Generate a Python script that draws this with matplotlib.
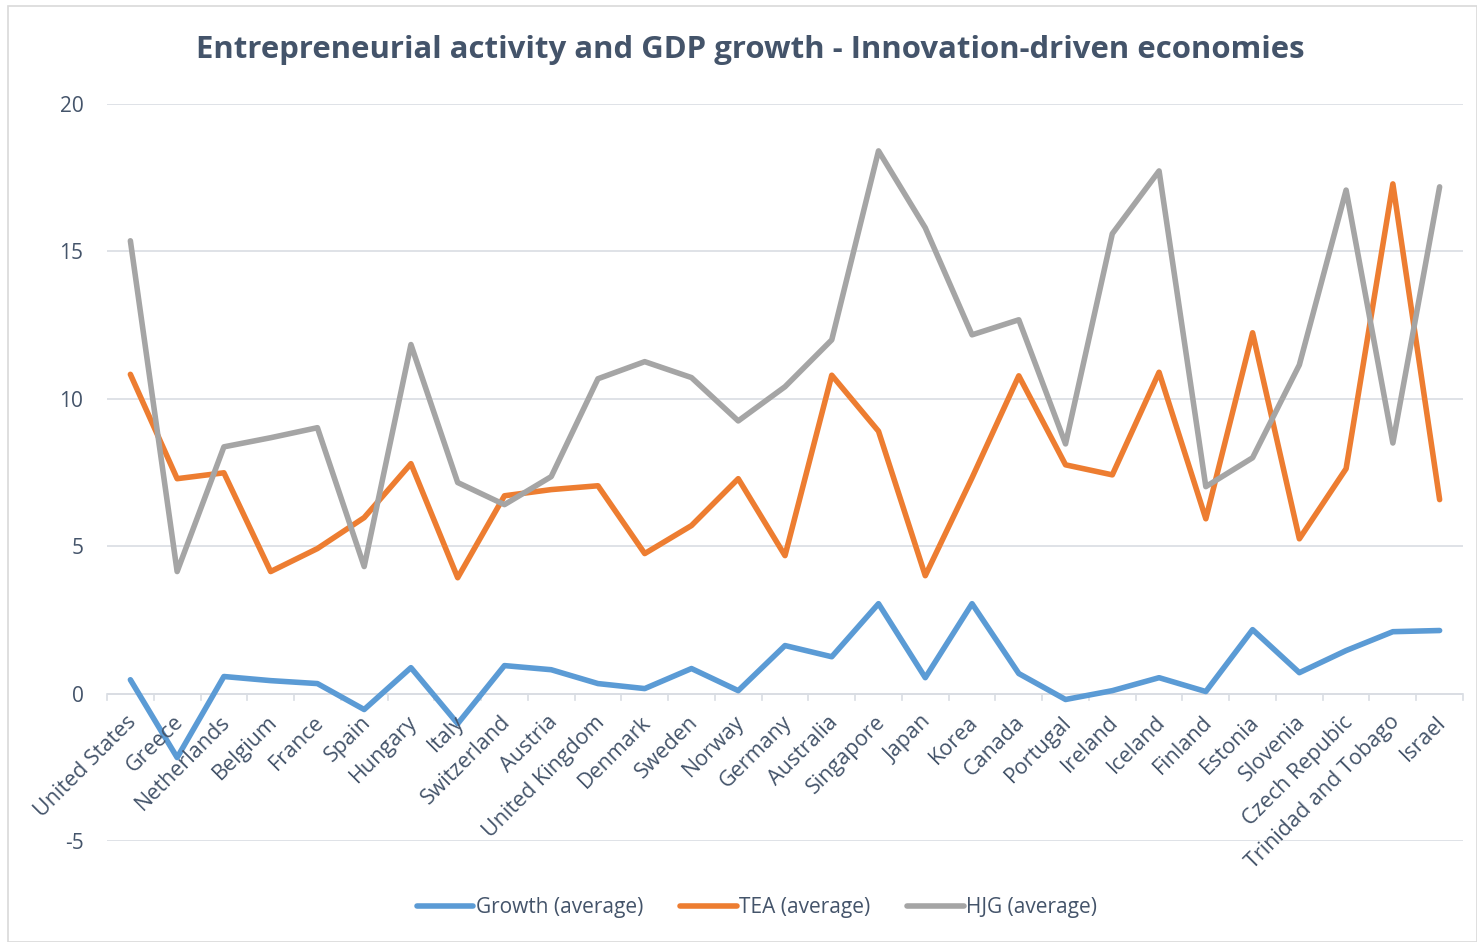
import matplotlib.pyplot as plt
from matplotlib.patches import Rectangle
import numpy as np

plt.rcParams["font.family"] = ["Open Sans", "DejaVu Sans"]
plt.rcParams["axes.unicode_minus"] = False

countries = [
    "United States", "Greece", "Netherlands", "Belgium", "France", "Spain",
    "Hungary", "Italy", "Switzerland", "Austria", "United Kingdom", "Denmark",
    "Sweden", "Norway", "Germany", "Australia", "Singapore", "Japan", "Korea",
    "Canada", "Portugal", "Ireland", "Iceland", "Finland", "Estonia",
    "Slovenia", "Czech Repubic", "Trinidad and Tobago", "Israel",
]

growth = [
    0.47, -2.17, 0.58, 0.44, 0.34, -0.54, 0.88, -1.02, 0.95, 0.81, 0.34, 0.17,
    0.85, 0.10, 1.63, 1.25, 3.05, 0.54, 3.05, 0.68, -0.20, 0.10, 0.54, 0.07,
    2.17, 0.71, 1.46, 2.10, 2.14,
]
tea = [
    10.83, 7.29, 7.49, 4.14, 4.92, 5.97, 7.80, 3.93, 6.71, 6.92, 7.05, 4.75,
    5.70, 7.29, 4.68, 10.80, 8.90, 4.00, 7.32, 10.78, 7.76, 7.42, 10.90, 5.93,
    12.24, 5.25, 7.63, 17.29, 6.58,
]
hjg = [
    15.36, 4.14, 8.37, 8.68, 9.02, 4.31, 11.84, 7.16, 6.41, 7.36, 10.68, 11.26,
    10.72, 9.25, 10.41, 12.00, 18.41, 15.80, 12.17, 12.68, 8.47, 15.60, 17.73,
    7.02, 8.00, 11.15, 17.08, 8.50, 17.19,
]

series = [
    ("Growth (average)", growth, "#5B9BD5"),
    ("TEA (average)", tea, "#ED7D31"),
    ("HJG (average)", hjg, "#A5A5A5"),
]

text_color = "#44546A"
grid_color = "#D9DDE3"
lw = 4.0

W, H = 1477, 942
fig = plt.figure(figsize=(W / 100, H / 100), dpi=100)
fig.patch.set_facecolor("white")

# chart-area border
fig.add_artist(Rectangle((8 / W, 0), 1 - 8 / W, 1 - 6 / H, transform=fig.transFigure,
                         fill=False, edgecolor="#D9D9D9", linewidth=1.2))

ax = fig.add_axes([107 / W, 1 - 841 / H, (1463 - 107) / W, (841 - 104) / H])

x = np.arange(len(countries))
for name, vals, color in series:
    ax.plot(x, vals, color=color, linewidth=lw, label=name,
            solid_joinstyle="round", solid_capstyle="round")

ax.set_xlim(-0.5, len(countries) - 0.5)
ax.set_ylim(-5, 20)
ax.set_yticks([-5, 0, 5, 10, 15, 20])
ax.grid(axis="y", color=grid_color, linewidth=1.2)
ax.set_axisbelow(True)
for s in ["top", "right", "left", "bottom"]:
    ax.spines[s].set_visible(False)

ax.tick_params(axis="y", length=0, pad=17, labelsize=15, labelcolor=text_color)
ax.set_xticks([])

# category axis at zero with tick marks between categories
ax.axhline(0, color=grid_color, linewidth=1.2, zorder=1)
for b in np.arange(-0.5, len(countries), 1.0):
    ax.plot([b, b], [0, -0.22], color=grid_color, linewidth=1.2, zorder=1,
            clip_on=False)

for i, name in enumerate(countries):
    ax.annotate(name, xy=(i, 0), xycoords="data", xytext=(-3, -13),
                textcoords="offset points", rotation=45, ha="right", va="top",
                rotation_mode="anchor", fontsize=15.5, color=text_color)

fig.text(750 / W, 1 - 50 / H, "Entrepreneurial activity and GDP growth - Innovation-driven economies",
         ha="center", va="center", fontsize=22.4, fontweight="bold", color=text_color)

leg = fig.legend(loc="center", bbox_to_anchor=(757 / W, 1 - 908 / H), ncol=3,
                 frameon=False, fontsize=15, handlelength=2.7, handletextpad=0.1,
                 columnspacing=1.8, labelcolor=text_color)
for line in leg.get_lines():
    line.set_linewidth(lw)
    line.set_solid_capstyle("round")

fig.savefig("out.png", dpi=100, facecolor="white")
